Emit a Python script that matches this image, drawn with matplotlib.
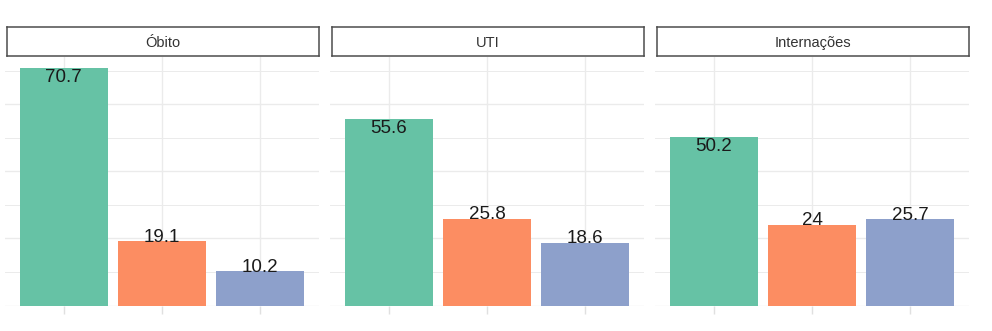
import matplotlib
matplotlib.use('Agg')
import matplotlib.pyplot as plt
from matplotlib.ticker import MultipleLocator

plt.rcParams['font.family'] = ['Liberation Sans', 'DejaVu Sans']

# data
panels = ['Óbito', 'UTI', 'Internações']
groups = ['A', 'B', 'C']
obito = [70.7, 19.1, 10.2]
uti = [55.6, 25.8, 18.6]
internacoes = [50.2, 24, 25.7]
colors = ['#66C2A5', '#FC8D62', '#8DA0CB']

values = [obito, uti, internacoes]
ymax = max(max(v) for v in values) * 1.05

fig = plt.figure(figsize=(9.92, 3.31), dpi=100)
W, H = 992, 331
lefts = [5, 330, 655]
pw = 314
ybase = 305.5
ytop = 56.5

for i, (name, vals) in enumerate(zip(panels, values)):
    ax = fig.add_axes([lefts[i] / W, 1 - ybase / H, pw / W, (ybase - ytop) / H])
    x = range(len(groups))
    ax.bar(x, vals, width=0.9, color=colors, zorder=2)
    for xi, v in zip(x, vals):
        if v > 40:
            ax.text(xi, v - 0.3, str(v), ha='center', va='top', fontsize=13.5, color='#1a1a1a', zorder=3)
        else:
            ax.text(xi, v - 1.3, str(v), ha='center', va='bottom', fontsize=13.5, color='#1a1a1a', zorder=3)
    ax.set_xlim(-0.6, 2.6)
    ax.set_ylim(0, ymax)
    ax.yaxis.set_major_locator(MultipleLocator(20))
    ax.yaxis.set_minor_locator(MultipleLocator(10))
    ax.set_xticks(list(x))
    ax.set_xticklabels([])
    ax.set_yticklabels([])
    ax.grid(True, which='major', color='#ebebeb', lw=1.0, zorder=0)
    ax.grid(True, which='minor', axis='y', color='#ebebeb', lw=0.7, zorder=0)
    ax.tick_params(axis='x', which='major', length=6, color='#e0e0e0', width=1, direction='out')
    ax.tick_params(axis='y', which='both', length=0)
    for s in ax.spines.values():
        s.set_visible(False)

    # facet strip
    sax = fig.add_axes([(lefts[i] + 1.5) / W, 1 - 56 / H, (pw - 2) / W, 29.5 / H])
    sax.set_xticks([])
    sax.set_yticks([])
    for s in sax.spines.values():
        s.set_color('#4d4d4d')
        s.set_linewidth(1.1)
    sax.text(0.5, 0.45, name, ha='center', va='center', fontsize=10.5, color='#333333',
             transform=sax.transAxes)

fig.savefig('out.png', dpi=100)
